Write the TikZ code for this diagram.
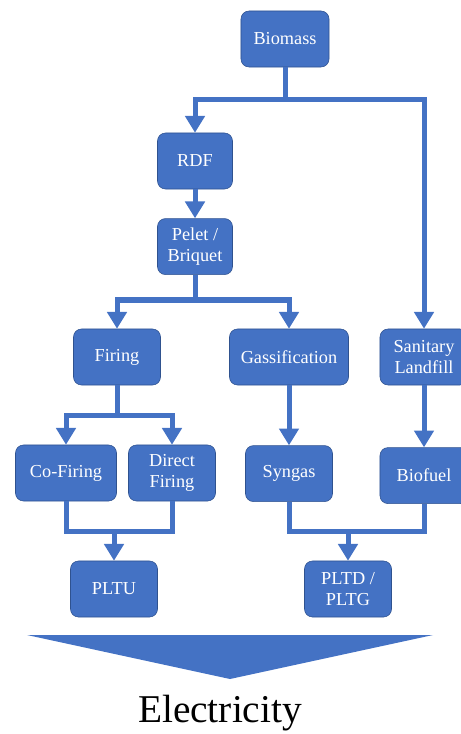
\documentclass[tikz,border=0pt]{standalone}
\usepackage{fontspec}
\setmainfont{Liberation Serif}
\usepackage{xcolor}
\definecolor{boxblue}{HTML}{4472C4}
\definecolor{boxedge}{HTML}{2F528F}
\usepackage{tikz}
\usetikzlibrary{positioning,arrows.meta}

\begin{document}
\begin{tikzpicture}[
  x=0.025cm, y=-0.025cm,
  box/.style={draw=boxedge, line width=0.4pt, fill=boxblue, rounded corners=0.2cm,
              minimum width=2.175cm, minimum height=1.4cm, inner sep=2pt,
              text=white, font=\fontsize{13}{15.5}\selectfont, align=center},
  link/.style={draw=boxblue, line width=0.125cm},
  arr/.style={link, -{Triangle[width=0.48cm,length=0.42cm]}}
]
  \useasboundingbox (0,0) rectangle (460,734);
  \node[box, minimum width=2.2cm] (bio) at (285,39) {Biomass};
  \node[box, minimum width=1.875cm] (rdf) at (195,161) {RDF};
  \node[box, minimum width=1.875cm, below=0.725cm of rdf] (pel) {Pelet /\\Briquet};
  \node[box] (fir) at (117,357) {Firing};
  \node[box, minimum width=2.975cm] (gas) at (289,357) {Gassification};
  \node[box, minimum width=2.2cm] (san) at (424,357) {Sanitary\\Landfill};
  \node[box, minimum width=2.525cm] (cof) at (66,473) {Co-Firing};
  \node[box] (dfi) at (172,473) {Direct\\Firing};
  \node[box, below=1.5cm of gas] (syn) {Syngas};
  \node[box, minimum width=2.2cm, below=1.55cm of san] (bfu) {Biofuel};
  \node[box] (pltu) at (114,589) {PLTU};
  \node[box] (pltd) at (348,589) {PLTD /\\PLTG};

  \coordinate (j1) at (285,100);
  \coordinate (j2) at (195,300);
  \coordinate (j3) at (117,415);
  \coordinate (j4) at (114,531);
  \coordinate (j5) at (348,531);

  \draw[link] (bio) -- (j1);
  \draw[arr] (j1) -| (rdf);
  \draw[arr] (j1) -| (san);
  \draw[arr] (rdf) -- (pel);
  \draw[link] (pel) -- (j2);
  \draw[arr] (j2) -| (fir);
  \draw[arr] (j2) -| (gas);
  \draw[link] (fir) -- (j3);
  \draw[arr] (j3) -| (cof);
  \draw[arr] (j3) -| (dfi);
  \draw[arr] (gas) -- (syn);
  \draw[arr] (san) -- (bfu);
  \draw[link] (cof) |- (j4);
  \draw[link] (dfi) |- (j4);
  \draw[arr] (j4) -- (pltu);
  \draw[link] (syn) |- (j5);
  \draw[link] (bfu) |- (j5);
  \draw[arr] (j5) -- (pltd);

  \fill[boxblue] (27,635) -- (433,635) -- (230,679) -- cycle;
  \node[font=\fontsize{28}{32}\selectfont, text=black] (elec) at (220,713) {Electricity};
\end{tikzpicture}
\end{document}
